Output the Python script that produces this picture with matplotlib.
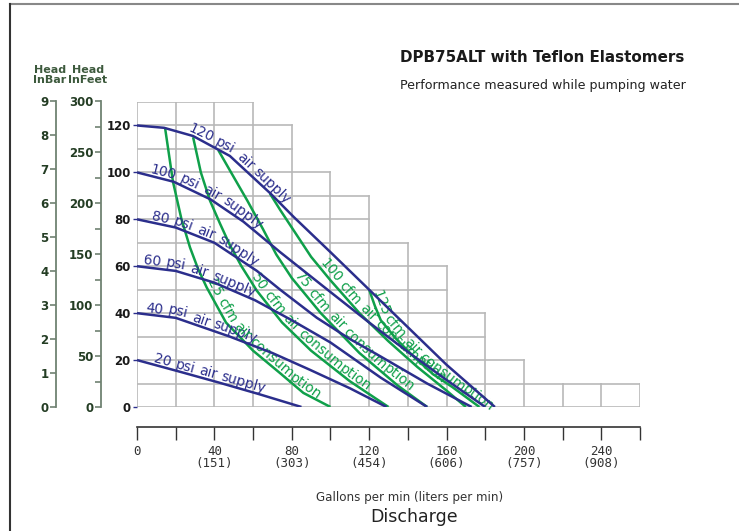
import numpy as np
import matplotlib
matplotlib.use("Agg")
import matplotlib.pyplot as plt
from matplotlib.lines import Line2D
from matplotlib.font_manager import FontProperties, findfont, get_font

# ---- values ----
gpm_ticks = [0, 20, 40, 60, 80, 100, 120, 140, 160, 180, 200, 220, 240, 260]
gpm_tick_labels = ["0", "", "40\n(151)", "", "80\n(303)", "", "120\n(454)", "",
                   "160\n(606)", "", "200\n(757)", "", "240\n(908)", ""]
head_ticks = [0, 20, 40, 60, 80, 100, 120]
bar_ticks = [0, 1, 2, 3, 4, 5, 6, 7, 8, 9]
feet_major = [0, 50, 100, 150, 200, 250, 300]
feet_minor = [25, 75, 125, 175, 225, 275]

# top of the stepped grid, one value per 20 gpm column
grid_tops = [130, 130, 130, 120, 100, 90, 70, 60, 40, 20, 10, 10, 10]

# air supply curves (gpm, ft)
psi120_gpm = [0, 14, 29, 48, 69, 81, 100, 120, 140, 160, 185]
psi120_head = [120, 119, 115.5, 107, 91, 81, 66, 50, 34, 18, 0]
psi100_gpm = [0, 19, 38, 55, 74, 100, 120, 140, 160, 180]
psi100_head = [100, 96, 88.5, 79, 66, 49, 36, 23.5, 11.5, 0]
psi80_gpm = [0, 20, 40, 62, 74, 93, 110, 126, 150, 173]
psi80_head = [80, 76.5, 70, 58, 50, 38, 29, 21.5, 10, 0]
psi60_gpm = [0, 20, 40, 61, 80, 100, 126, 150]
psi60_head = [60, 58, 53, 45.5, 37, 27.5, 12.5, 0]
psi40_gpm = [0, 20, 48, 70, 89, 110, 129]
psi40_head = [40, 38, 30, 23, 16, 8, 0]
psi20_gpm = [0, 21, 42, 63, 85]
psi20_head = [20, 15.3, 10.5, 5.5, 0]

# air consumption curves (gpm, ft)
cfm25_gpm = [14.5, 18.6, 23, 27.4, 31.5, 36, 46, 60, 74, 86, 100]
cfm25_head = [119, 96, 80, 68, 59, 51, 36, 24, 14.4, 6, 0]
cfm50_gpm = [29, 33, 37.7, 43, 48, 54, 62, 75, 90, 110, 130]
cfm50_head = [115, 100, 88, 78, 69, 60, 49.5, 36, 24, 11, 0]
cfm75_gpm = [42, 50, 57, 65, 72, 80, 95, 115, 135, 150]
cfm75_head = [109.5, 98, 88, 76, 65, 55, 40, 23, 9, 0]
cfm100_gpm = [68.7, 74, 82, 90, 100, 115, 130, 145, 160, 170]
cfm100_head = [91, 84, 74, 64, 54, 40, 28, 17, 7, 0]
cfm125_gpm = [120, 123, 126, 134, 143, 153, 163, 177]
cfm125_head = [50, 43, 37, 29, 21.5, 14, 8.5, 0]

psi_labels = ["120 psi air supply", "100 psi air supply", "80 psi air supply",
              "60 psi air supply", "40 psi air supply", "20 psi air supply"]
psi_label_start = [25, 6, 7, 3, 4, 8]
cfm_labels = ["25 cfm air consumption", "50 cfm air consumption",
              "75 cfm air consumption", "100 cfm air consumption",
              "125 cfm air consumption"]
cfm_label_start = [35, 58, 80, 93, 120.5]

BLUE = "#2b2e8c"
GREEN = "#0fa04a"
W, H = 739, 531
DPI = 100


def glyph_extents(text, size, family="DejaVu Sans"):
    """Ink left/right of each character along the baseline, in pixels."""
    font = get_font(findfont(FontProperties(family=family)))
    font.set_size(size, DPI)
    pen, ext = 0.0, []
    for ch in text:
        g = font.load_char(ord(ch))
        left = pen + g.horiBearingX / 64
        ext.append((left, left + g.width / 64))
        pen += g.linearHoriAdvance / 65536
    return ext


def chunks(text, max_len=7):
    """Split a label into words; long words into two pieces."""
    out, i = [], 0
    for word in text.split(" "):
        if len(word) > max_len:
            half = (len(word) + 1) // 2
            out += [(word[:half], i), (word[half:], i + half)]
        else:
            out.append((word, i))
        i += len(word) + 1
    return out


def label_along(ax, xs, ys, text, x_start, color, size=10, offset=2.5):
    """Write a label following a curve, piece by piece."""
    pts = ax.transData.transform(np.column_stack([xs, ys]))
    d = np.diff(pts, axis=0)
    seg = np.hypot(d[:, 0], d[:, 1])
    cum = np.concatenate([[0.0], np.cumsum(seg)])

    def point_at(s):
        if s > cum[-1]:
            return pts[-1] + d[-1] / seg[-1] * (s - cum[-1])
        return np.array([np.interp(s, cum, pts[:, 0]), np.interp(s, cum, pts[:, 1])])

    ext = glyph_extents(text, size)
    s0 = np.interp(x_start, xs, cum)
    inv = ax.transData.inverted()
    for piece, i0 in chunks(text):
        left = s0 + ext[i0][0]
        right = s0 + ext[i0 + len(piece) - 1][1]
        mid = (left + right) / 2
        v = point_at(max(right, mid + 3)) - point_at(min(left, mid - 3))
        n = np.array([-v[1], v[0]]) / np.hypot(*v)
        p = point_at(mid) + n * offset
        ang = np.degrees(np.arctan2(v[1], v[0]))
        x, y = inv.transform(p)
        ax.text(x, y, piece, fontsize=size, color=color, rotation=ang,
                rotation_mode="anchor", ha="center", va="baseline", clip_on=False)


fig = plt.figure(figsize=(W / DPI, H / DPI), dpi=DPI)

# main chart
ax = fig.add_axes([137 / W, (H - 407) / H, 503 / W, 305 / H])
ax.set_xlim(0, 260)
ax.set_ylim(0, 130)
ax.patch.set_visible(False)
for side in ["top", "right", "left"]:
    ax.spines[side].set_visible(False)

# stepped grid
grid_kw = dict(color="#b9b9b9", lw=1.2, zorder=1)
for i, top in enumerate(grid_tops):
    x0, x1 = gpm_ticks[i], gpm_ticks[i] + 20
    for yy in range(0, top + 1, 10):
        ax.plot([x0, x1], [yy, yy], **grid_kw)
    left_h = max(top, grid_tops[i - 1]) if i > 0 else top
    ax.plot([x0, x0], [0, left_h], **grid_kw)
ax.plot([260, 260], [0, grid_tops[-1]], **grid_kw)

psi_curves = [(psi120_gpm, psi120_head), (psi100_gpm, psi100_head),
              (psi80_gpm, psi80_head), (psi60_gpm, psi60_head),
              (psi40_gpm, psi40_head), (psi20_gpm, psi20_head)]
cfm_curves = [(cfm25_gpm, cfm25_head), (cfm50_gpm, cfm50_head),
              (cfm75_gpm, cfm75_head), (cfm100_gpm, cfm100_head),
              (cfm125_gpm, cfm125_head)]

for (gx, hy) in cfm_curves:
    ax.plot(gx, hy, color=GREEN, lw=1.8, zorder=3, solid_capstyle="butt")
for (gx, hy) in psi_curves:
    ax.plot(gx, hy, color=BLUE, lw=1.8, zorder=4, solid_capstyle="butt")

for (gx, hy), lab, st in zip(psi_curves, psi_labels, psi_label_start):
    label_along(ax, gx, hy, lab, st, BLUE)
for (gx, hy), lab, st in zip(cfm_curves, cfm_labels, cfm_label_start):
    label_along(ax, gx, hy, lab, st, GREEN)

# bottom discharge axis
ax.spines["bottom"].set_position(("outward", 14.4))
ax.spines["bottom"].set_color("#333333")
ax.spines["bottom"].set_linewidth(1.2)
ax.set_xticks(gpm_ticks)
ax.set_xticklabels(gpm_tick_labels, family="DejaVu Sans Mono", fontsize=9,
                   color="#333333", linespacing=0.95)
ax.tick_params(axis="x", direction="out", length=9.4, width=1, color="#333333", pad=3.5)

ax.set_yticks(head_ticks)
ax.set_yticklabels([str(v) for v in head_ticks], fontsize=8.5, fontweight="bold",
                   color="#1a1a1a")
ax.tick_params(axis="y", direction="out", length=3, width=1, color=BLUE, pad=1.5)

# head in bar / head in feet side scales
def side_scale(x_px, top, major, minor=None):
    a = fig.add_axes([x_px / W, (H - 407) / H, 0.0005, 306 / H])
    a.patch.set_visible(False)
    for side in ["top", "right", "bottom"]:
        a.spines[side].set_visible(False)
    a.spines["left"].set_color("#6f8272")
    a.spines["left"].set_linewidth(1.3)
    a.set_ylim(0, top)
    a.set_xticks([])
    a.set_yticks(major)
    a.set_yticklabels([str(v) for v in major], fontsize=8.5, fontweight="bold",
                      color="#243d24")
    if minor:
        a.set_yticks(minor, minor=True)
    a.tick_params(axis="y", which="both", direction="out", length=4.5, width=1.2,
                  color="#6f8272", pad=1)
    return a

side_scale(56, 9, bar_ticks)
side_scale(101, 300, feet_major, feet_minor)
fig.text(50 / W, 1 - 75 / H, "Head\nInBar", ha="center", va="center", fontsize=8,
         fontweight="bold", color="#3d5a3d", linespacing=1.0)
fig.text(88 / W, 1 - 75 / H, "Head\nInFeet", ha="center", va="center", fontsize=8,
         fontweight="bold", color="#3d5a3d", linespacing=1.0)

# titles
fig.text(400 / W, 1 - 58 / H, "DPB75ALT with Teflon Elastomers", ha="left", va="center",
         fontsize=10.9, fontweight="bold", color="#1a1a1a")
fig.text(400 / W, 1 - 85 / H, "Performance measured while pumping water", ha="left",
         va="center", fontsize=9.1, color="#222222")
fig.text(410 / W, 1 - 497 / H, "Gallons per min (liters per min)", ha="center",
         va="center", fontsize=8.6, color="#333333")
fig.text(414 / W, 1 - 517 / H, "Discharge", ha="center", va="center", fontsize=12.5,
         color="#222222")

# frame
fig.add_artist(Line2D([10 / W, 1], [1 - 4 / H, 1 - 4 / H], color="#888888", lw=1.5))
fig.add_artist(Line2D([10 / W, 10 / W], [0, 1 - 4 / H], color="#333333", lw=1.5))

fig.savefig("out.png", dpi=DPI)
